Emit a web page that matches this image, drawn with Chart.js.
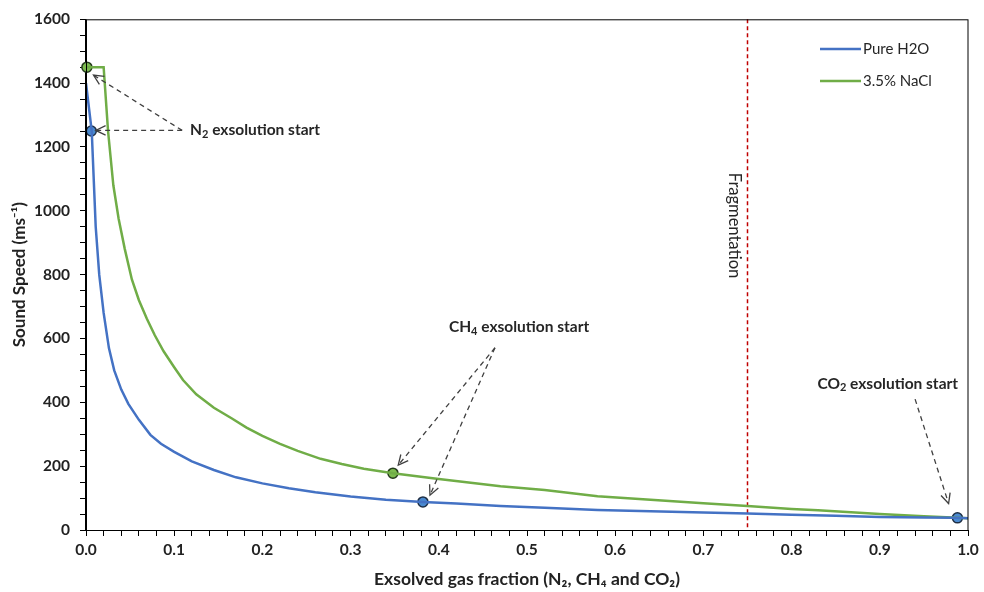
<!DOCTYPE html>
<html lang="en">
<head>
<meta charset="UTF-8">
<title>Sound Speed vs Exsolved Gas Fraction</title>
<script src="https://cdn.jsdelivr.net/npm/chart.js"></script>
<style>
    html, body { margin: 0; padding: 0; background: #fff; }
    #wrap { width: 984px; height: 592px; position: relative; }
</style>
</head>
<body>
<div id="wrap"><canvas id="soundChart"></canvas></div>
<script>
// curves
const h2oX = [0, 0.0065, 0.011, 0.015, 0.02, 0.026, 0.032, 0.04, 0.048, 0.06, 0.073, 0.085, 0.1, 0.12, 0.145, 0.17, 0.2, 0.23, 0.26, 0.3, 0.34, 0.382, 0.42, 0.47, 0.52, 0.58, 0.64, 0.7, 0.75, 0.8, 0.85, 0.9, 0.95, 0.988, 1.0];
const h2oY = [1400, 1250, 950, 800, 680, 570, 500, 440, 395, 345, 298, 270, 245, 215, 188, 165, 146, 131, 118, 105, 95, 88, 83, 75, 70, 63, 59, 55, 52, 48, 45, 41, 39, 38, 37];
const naclX = [0, 0.02, 0.025, 0.031, 0.037, 0.044, 0.052, 0.06, 0.069, 0.078, 0.088, 0.1, 0.11, 0.125, 0.145, 0.165, 0.182, 0.2, 0.22, 0.24, 0.266, 0.29, 0.315, 0.348, 0.4, 0.47, 0.52, 0.58, 0.64, 0.7, 0.75, 0.8, 0.83, 0.9, 0.95, 0.988, 1.0];
const naclY = [1450, 1450, 1250, 1080, 975, 880, 785, 720, 662, 610, 560, 510, 470, 425, 383, 350, 321, 295, 270, 248, 223, 207, 192, 178, 160, 137, 125, 106, 95, 84, 75, 66, 62, 50, 43, 38, 37];

// exsolution start markers
const h2oMarkX = [0.006, 0.382, 0.988];
const h2oMarkY = [1250, 88, 38];
const naclMarkX = [0.001, 0.348];
const naclMarkY = [1450, 178];

const seriesNames = ['Pure H2O', '3.5% NaCl'];
const fragmentationX = 0.75;

const xTickStep = 0.02;
const yTickStep = 50;

function toPoints(xs, ys) {
    return xs.map((x, i) => ({ x: x, y: ys[i] }));
}

// annotation text + arrows (data coords)
const notes = [
    { parts: [['N', 0], ['2', 1], [' exsolution start', 0]], x: 0.118, y: 1252, align: 'left',
      arrows: [[0.109, 1252, 0.0085, 1425], [0.109, 1252, 0.011, 1252]] },
    { parts: [['CH', 0], ['4', 1], [' exsolution start', 0]], x: 0.491, y: 636, align: 'center',
      arrows: [[0.4637, 571, 0.354, 203], [0.4637, 571, 0.390, 109]] },
    { parts: [['CO', 0], ['2', 1], [' exsolution start', 0]], x: 0.909, y: 458, align: 'center',
      arrows: [[0.940, 410, 0.978, 83]] }
];

function drawRich(ctx, parts, x, y, align) {
    const base = 'bold 15.5px Lato';
    const sub = 'bold 11px Lato';
    let w = 0;
    parts.forEach(p => { ctx.font = p[1] ? sub : base; w += ctx.measureText(p[0]).width; });
    let cx = align === 'center' ? x - w / 2 : x;
    ctx.textAlign = 'left';
    ctx.textBaseline = 'middle';
    parts.forEach(p => {
        ctx.font = p[1] ? sub : base;
        ctx.fillText(p[0], cx, p[1] ? y + 4 : y);
        cx += ctx.measureText(p[0]).width;
    });
}

function drawArrow(ctx, x1, y1, x2, y2) {
    ctx.save();
    ctx.strokeStyle = '#404040';
    ctx.lineWidth = 1.3;
    ctx.setLineDash([5, 4]);
    ctx.beginPath();
    ctx.moveTo(x1, y1);
    ctx.lineTo(x2, y2);
    ctx.stroke();
    ctx.setLineDash([]);
    const a = Math.atan2(y2 - y1, x2 - x1);
    const len = 11;
    ctx.beginPath();
    ctx.moveTo(x2 - len * Math.cos(a - 0.45), y2 - len * Math.sin(a - 0.45));
    ctx.lineTo(x2, y2);
    ctx.lineTo(x2 - len * Math.cos(a + 0.45), y2 - len * Math.sin(a + 0.45));
    ctx.stroke();
    ctx.restore();
}

const extras = {
    id: 'extras',
    beforeDatasetsDraw(chart) {
        const { ctx, chartArea: ca, scales: { x, y } } = chart;
        // fragmentation line
        const fx = x.getPixelForValue(fragmentationX);
        ctx.save();
        ctx.strokeStyle = '#c00000';
        ctx.lineWidth = 1.5;
        ctx.setLineDash([4, 3]);
        ctx.beginPath();
        ctx.moveTo(fx, ca.top);
        ctx.lineTo(fx, ca.bottom);
        ctx.stroke();
        ctx.restore();

        ctx.save();
        ctx.translate(x.getPixelForValue(0.7347), y.getPixelForValue(954));
        ctx.rotate(Math.PI / 2);
        ctx.fillStyle = '#262626';
        ctx.font = '16.5px Lato';
        ctx.textAlign = 'center';
        ctx.textBaseline = 'middle';
        ctx.fillText('Fragmentation', 0, 0);
        ctx.restore();
    },
    afterDraw(chart) {
        const { ctx, chartArea: ca, scales: { x, y } } = chart;
        // box around plot
        ctx.save();
        ctx.strokeStyle = '#000';
        ctx.lineWidth = 1;
        ctx.strokeRect(ca.left + 0.5, ca.top + 0.5, ca.right - ca.left - 0.5, ca.bottom - ca.top);
        ctx.restore();

        // annotations
        ctx.save();
        ctx.fillStyle = '#262626';
        notes.forEach(n => {
            n.arrows.forEach(a => drawArrow(ctx,
                x.getPixelForValue(a[0]), y.getPixelForValue(a[1]),
                x.getPixelForValue(a[2]), y.getPixelForValue(a[3])));
            drawRich(ctx, n.parts, x.getPixelForValue(n.x), y.getPixelForValue(n.y), n.align);
        });
        ctx.restore();

        // legend
        ctx.save();
        ctx.font = '15px Lato';
        ctx.textAlign = 'left';
        ctx.textBaseline = 'middle';
        [0, 1].forEach((i, k) => {
            const ds = chart.data.datasets[i];
            const ly = 49 + k * 32;
            ctx.strokeStyle = ds.borderColor;
            ctx.lineWidth = 2.5;
            ctx.beginPath();
            ctx.moveTo(820, ly);
            ctx.lineTo(861, ly);
            ctx.stroke();
            ctx.fillStyle = '#262626';
            ctx.fillText(ds.label, 863, ly);
        });
        ctx.restore();
    }
};

const tickFont = { family: 'Lato', size: 15.5, weight: 'bold' };

new Chart(document.getElementById('soundChart'), {
    type: 'scatter',
    data: {
        datasets: [
            {
                label: seriesNames[0],
                data: toPoints(h2oX, h2oY),
                showLine: true,
                borderColor: '#4472c4',
                borderWidth: 2.5,
                pointRadius: 0,
                tension: 0
            },
            {
                label: seriesNames[1],
                data: toPoints(naclX, naclY),
                showLine: true,
                borderColor: '#70ad47',
                borderWidth: 2.5,
                pointRadius: 0,
                tension: 0
            },
            {
                label: 'H2O start',
                data: toPoints(h2oMarkX, h2oMarkY),
                showLine: false,
                pointRadius: 5,
                pointBackgroundColor: '#4a8ad0',
                pointBorderColor: '#1f2f45',
                pointBorderWidth: 1.5,
                clip: false
            },
            {
                label: 'NaCl start',
                data: toPoints(naclMarkX, naclMarkY),
                showLine: false,
                pointRadius: 5,
                pointBackgroundColor: '#7cbb4f',
                pointBorderColor: '#243a1c',
                pointBorderWidth: 1.5,
                clip: false
            }
        ]
    },
    options: {
        responsive: true,
        maintainAspectRatio: false,
        animation: false,
        layout: { padding: { top: 17, right: 16, left: 0, bottom: 0 } },
        plugins: {
            legend: { display: false },
            tooltip: { enabled: false }
        },
        scales: {
            x: {
                type: 'linear',
                min: 0,
                max: 1,
                afterFit(scale) { scale.height = 62; },
                ticks: {
                    stepSize: xTickStep,
                    autoSkip: false,
                    maxRotation: 0,
                    padding: 5,
                    color: '#222',
                    font: tickFont,
                    callback(v) {
                        const t = v * 10;
                        return Math.abs(t - Math.round(t)) < 1e-6 ? v.toFixed(1) : '';
                    }
                },
                grid: { drawOnChartArea: false, tickLength: 6, color: '#000' },
                border: { color: '#000', width: 1 },
                title: {
                    display: true,
                    text: 'Exsolved gas fraction (N\u2082, CH\u2084 and CO\u2082)',
                    color: '#222',
                    font: { family: 'Lato', size: 17.5, weight: 'bold' },
                    padding: { top: 0, bottom: 2 }
                }
            },
            y: {
                min: 0,
                max: 1600,
                afterFit(scale) { scale.width = 86; },
                ticks: {
                    stepSize: yTickStep,
                    autoSkip: false,
                    padding: 10,
                    color: '#222',
                    font: tickFont,
                    callback(v) { return v % 200 === 0 ? String(v) : ''; }
                },
                grid: { drawOnChartArea: false, tickLength: 6, color: '#000' },
                border: { color: '#000', width: 1.5 },
                title: {
                    display: true,
                    text: 'Sound Speed (ms\u207B\u00B9)',
                    color: '#222',
                    font: { family: 'Lato', size: 17, weight: 'bold' },
                    padding: { top: 9, bottom: 0 }
                }
            }
        }
    },
    plugins: [extras]
});
</script>
</body>
</html>
